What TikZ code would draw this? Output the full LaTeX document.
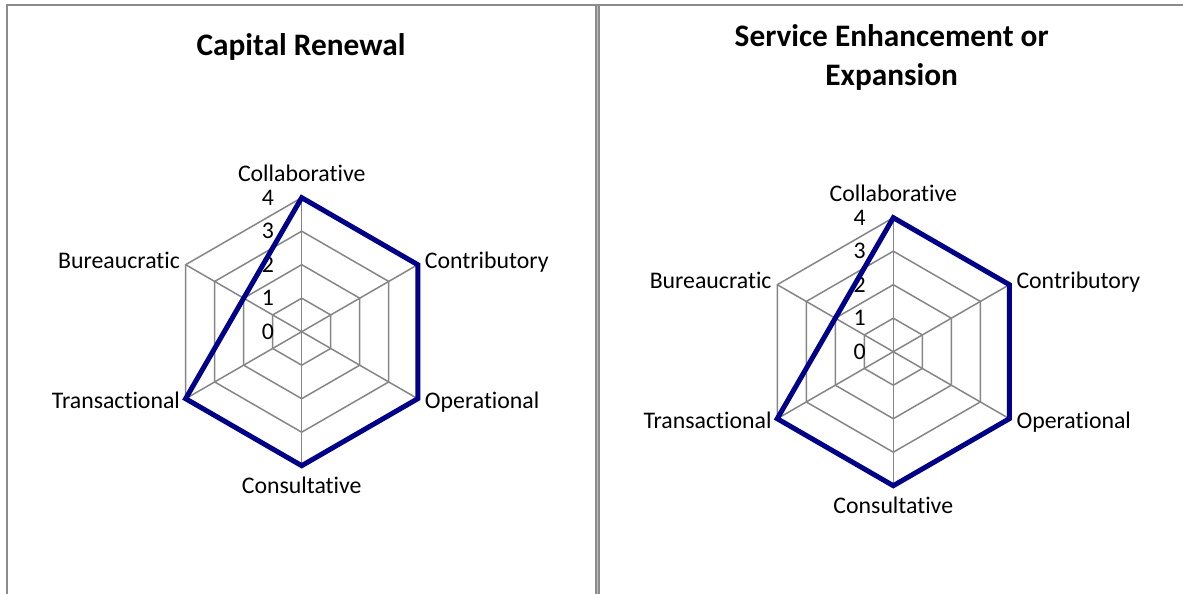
\documentclass[tikz,border=0pt]{standalone}
\usepackage{fontspec}
\setmainfont{Carlito}[Ligatures=NoCommon]
\definecolor{gridgray}{HTML}{868686}
\definecolor{framegray}{HTML}{8C8C8C}
\definecolor{framelight}{HTML}{BDBDBD}
\definecolor{seriesblue}{HTML}{000088}
\newcommand\radarchart[3]{%
\begin{scope}[shift={(#2,#3)}]
  \coordinate (#1-collab) at (90:134);
  \coordinate (#1-contrib) at (30:134);
  \coordinate (#1-oper) at (-30:134);
  \coordinate (#1-consult) at (-90:134);
  \coordinate (#1-trans) at (210:134);
  \coordinate (#1-bureau) at (150:134);
  \coordinate (#1-center) at (0,0);
  \foreach \k in {1,...,4}{
    \draw[grid] (90:{\k*33.5}) -- (30:{\k*33.5}) -- (-30:{\k*33.5}) -- (-90:{\k*33.5}) -- (210:{\k*33.5}) -- (150:{\k*33.5}) -- cycle;
  }
  \foreach \a in {collab,contrib,oper,consult,trans,bureau}{
    \draw[grid] (#1-center) -- (#1-\a);
  }
  \foreach \k in {0,...,4}{
    \node[tick] (#1-tick\k) at (-27.5,{\k*33.5-7.5}) {\k};
  }
  \node[axlabel,anchor=base] (#1-lcollab) at (0,150) {Collaborative};
  \node[axlabel,anchor=base east] (#1-lbureau) at (-121.6,63.4) {Bureaucratic};
  \node[axlabel,anchor=base west] (#1-lcontrib) at (123,63.4) {Contributory};
  \node[axlabel,anchor=base east] (#1-ltrans) at (-121.6,-76.6) {Transactional};
  \node[axlabel,anchor=base west] (#1-loper) at (123,-76.6) {Operational};
  \node[axlabel,anchor=base] (#1-lconsult) at (0,-162) {Consultative};
  \draw[series] (#1-collab) -- (#1-contrib) -- (#1-oper) -- (#1-consult) -- (#1-trans) -- cycle;
\end{scope}}
\begin{document}
\begin{tikzpicture}[x=1pt,y=1pt,
  grid/.style={draw=gridgray,line width=1.5pt},
  series/.style={draw=seriesblue,line width=5pt,line join=miter},
  frame/.style={draw=framegray,line width=2pt},
  axlabel/.style={inner sep=0pt,font=\fontsize{23.8}{28}\selectfont},
  tick/.style={inner sep=0pt,font=\fontsize{23.8}{28}\selectfont,anchor=base east},
  charttitle/.style={inner sep=0pt,font=\bfseries\fontsize{31.3}{39.5}\selectfont,align=center}]
\useasboundingbox (0,0) rectangle (1183,594);
\fill[white] (0,0) rectangle (1183,594);
% frames
\coordinate (ftl) at (7,589);
\coordinate (fbl) at (7,0);
\coordinate (ftr) at (1183,589);
\coordinate (m1t) at (596,589);
\coordinate (m1b) at (596,0);
\coordinate (m2t) at (599,589);
\coordinate (m2b) at (599,0);
\fill[framelight] (596,0) rectangle (599,589);
\draw[frame] (fbl) -- (ftl) -- (ftr);
\draw[frame] (m1t) -- (m1b);
\draw[frame] (m2t) -- (m2b);
% titles
\node[charttitle,anchor=base] (title1) at (301,538) {Capital Renewal};
\node[charttitle,anchor=base] (title2) at (891.7,508) {Service Enhancement or\\Expansion};
% charts
\radarchart{A}{301.7}{262.3}
\radarchart{B}{893.3}{242.3}
\end{tikzpicture}
\end{document}
